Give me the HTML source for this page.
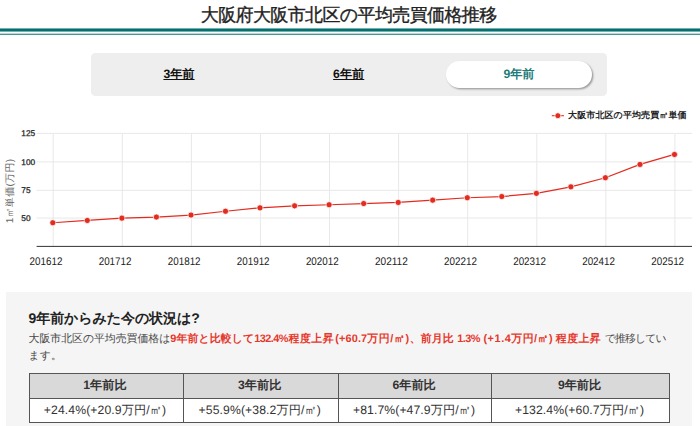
<!DOCTYPE html>
<html lang="ja">
<head>
<meta charset="utf-8">
<title>大阪府大阪市北区の平均売買価格推移</title>
<style>
*{margin:0;padding:0;box-sizing:border-box;}
html,body{width:700px;height:426px;overflow:hidden;background:#fff;}
body{font-family:"Liberation Sans",sans-serif;color:#222;position:relative;text-rendering:geometricPrecision;}
.title{position:absolute;left:-1.3px;top:2.6px;width:700px;text-align:center;font-size:18px;font-weight:500;line-height:24px;color:#222;letter-spacing:-0.62px;-webkit-text-stroke:0.35px #222;}
svg.rules{position:absolute;left:0;top:26px;}
.tabs{position:absolute;left:91.3px;top:53.3px;width:515.7px;height:42.4px;background:#eeeeee;border-radius:4.5px;}
.tab{position:absolute;top:7.6px;height:27.1px;width:146px;border-radius:13.6px;text-align:center;font-size:12.2px;font-weight:700;line-height:26.6px;color:#111;}
.tab span{text-decoration:underline;}
.tab.t1{left:14.7px;}
.tab.t2{left:184.4px;}
.tab.t3{left:354.7px;background:#fff;color:#1f7a7a;box-shadow:1.3px 1.3px 2px rgba(0,0,0,.36);}
.tab.t3 span{text-decoration:none;}
svg.chart{position:absolute;left:0;top:100px;}
.info{position:absolute;left:6.3px;top:291.9px;width:685.7px;height:140px;background:#f5f5f5;}
.h{position:absolute;left:28.6px;top:307.5px;font-size:14px;font-weight:700;line-height:21px;color:#222;white-space:nowrap;letter-spacing:-0.1px;}
.p{position:absolute;left:28.6px;top:330.6px;width:664px;white-space:nowrap;font-size:10.9px;line-height:17.7px;color:#484848;}
.p .tl{letter-spacing:-0.9px;margin-left:0.6px;}
.p b{color:#e6372c;font-weight:700;}
table{position:absolute;left:28.5px;top:372.6px;border-collapse:collapse;table-layout:fixed;width:640.5px;font-size:12.2px;color:#333;}
th,td{border:1px solid #555;text-align:center;padding:0 2px 0 0;white-space:nowrap;}
th{background:#d9d9d9;font-weight:700;height:25.5px;}
td{background:#fff;height:23.7px;letter-spacing:.1px;}
</style>
</head>
<body>
<div class="title">大阪府大阪市北区の平均売買価格推移</div>
<svg class="rules" width="700" height="12" viewBox="0 26 700 12"><rect x="0" y="28.45" width="700" height="3.1" fill="#05706e"/><rect x="0" y="33.65" width="700" height="1.3" fill="#3a9391"/></svg>
<div class="tabs">
  <div class="tab t1"><span>3年前</span></div>
  <div class="tab t2"><span>6年前</span></div>
  <div class="tab t3"><span>9年前</span></div>
</div>
<svg class="chart" width="700" height="180" viewBox="0 100 700 180" font-family="Liberation Sans, sans-serif">
  <g stroke="#e8e8e8" stroke-width="1" fill="none">
    <path d="M36.6 133.4H692M36.6 161.9H692M36.6 190.3H692M36.6 218H692"/>
    <path d="M53.2 133.4V246M122.3 133.4V246M191.4 133.4V246M260.4 133.4V246M329.5 133.4V246M398.6 133.4V246M467.7 133.4V246M536.8 133.4V246M605.8 133.4V246M674.9 133.4V246"/>
  </g>
  <path d="M36.6 246.4H692" stroke="#333" stroke-width="1" fill="none"/>
  <g font-size="8.3" fill="#222" text-anchor="start" stroke="#222" stroke-width="0.25">
    <text x="21.3" y="136.4">125</text>
    <text x="21.3" y="164.9">100</text>
    <text x="21.3" y="193.2">75</text>
    <text x="21.3" y="221">50</text>
  </g>
  <g font-size="11" fill="#222" text-anchor="start">
    <text x="29.6" y="265.1" textLength="32.8" lengthAdjust="spacingAndGlyphs">201612</text>
    <text x="98.7" y="265.1" textLength="32.8" lengthAdjust="spacingAndGlyphs">201712</text>
    <text x="167.8" y="265.1" textLength="32.8" lengthAdjust="spacingAndGlyphs">201812</text>
    <text x="236.8" y="265.1" textLength="32.8" lengthAdjust="spacingAndGlyphs">201912</text>
    <text x="305.9" y="265.1" textLength="32.8" lengthAdjust="spacingAndGlyphs">202012</text>
    <text x="375.0" y="265.1" textLength="32.8" lengthAdjust="spacingAndGlyphs">202112</text>
    <text x="444.1" y="265.1" textLength="32.8" lengthAdjust="spacingAndGlyphs">202212</text>
    <text x="513.2" y="265.1" textLength="32.8" lengthAdjust="spacingAndGlyphs">202312</text>
    <text x="582.2" y="265.1" textLength="32.8" lengthAdjust="spacingAndGlyphs">202412</text>
    <text x="651.3" y="265.1" textLength="32.8" lengthAdjust="spacingAndGlyphs">202512</text>
  </g>
  <text transform="translate(12.8 191) rotate(-90)" font-size="10" fill="#666" text-anchor="middle" letter-spacing="0.3">1㎡単価(万円)</text>
  <g transform="translate(-0.4 0.15)">
  <polyline fill="none" stroke="#e22c20" stroke-width="1.25" stroke-linejoin="round" points="53.2,222.6 87.7,220.3 122.3,218 156.8,216.9 191.4,214.9 225.9,211.1 260.4,207.7 295,205.7 329.5,204.6 364.1,203.4 398.6,202.3 433.1,200 467.7,197.6 502.2,196.4 536.8,193.2 571.3,186.7 605.8,177.6 640.4,164.3 674.9,154.3"/>
  <g fill="#e22c20" stroke="#fff" stroke-width="0.7">
    <circle cx="53.2" cy="222.6" r="3.05"/><circle cx="87.7" cy="220.3" r="3.05"/><circle cx="122.3" cy="218" r="3.05"/>
    <circle cx="156.8" cy="216.9" r="3.05"/><circle cx="191.4" cy="214.9" r="3.05"/><circle cx="225.9" cy="211.1" r="3.05"/>
    <circle cx="260.4" cy="207.7" r="3.05"/><circle cx="295" cy="205.7" r="3.05"/><circle cx="329.5" cy="204.6" r="3.05"/>
    <circle cx="364.1" cy="203.4" r="3.05"/><circle cx="398.6" cy="202.3" r="3.05"/><circle cx="433.1" cy="200" r="3.05"/>
    <circle cx="467.7" cy="197.6" r="3.05"/><circle cx="502.2" cy="196.4" r="3.05"/><circle cx="536.8" cy="193.2" r="3.05"/>
    <circle cx="571.3" cy="186.7" r="3.05"/><circle cx="605.8" cy="177.6" r="3.05"/><circle cx="640.4" cy="164.3" r="3.05"/>
    <circle cx="674.9" cy="154.3" r="3.05"/>
  </g>
  </g>
  <path d="M551.8 115.7H563.9" stroke="#e22c20" stroke-width="1.1"/>
  <circle cx="557.85" cy="115.7" r="3" fill="#e22c20" stroke="#fff" stroke-width="0.8"/>
  <text x="568.1" y="118.4" font-size="9" font-weight="700" fill="#222" letter-spacing="0.1">大阪市北区の平均売買㎡単価</text>
</svg>
<div class="info"></div>
<div class="h">9年前からみた今の状況は?</div>
<div class="p"><span style="letter-spacing:-.03px">大阪市北区の平均売買価格は</span><b><span style="letter-spacing:.1px">9年前と比較して</span><span style="letter-spacing:-.52px">132.4%</span><span style="letter-spacing:.52px;margin-left:.5px">程度上昇</span><span style="letter-spacing:.13px;margin-left:1.2px">(+60.7</span><span style="letter-spacing:.62px">万円/㎡)</span><span style="letter-spacing:.1px">、前月比 </span><span style="letter-spacing:-.5px;margin-left:.4px">1.3%</span><span style="letter-spacing:.55px;margin-left:3.4px">(+1.4</span><span style="letter-spacing:.47px">万円/㎡)</span><span style="letter-spacing:.45px;margin-left:2.8px">程度上昇</span></b> <span class="tl">で推移してい</span><br>ます。</div>
<table>
  <colgroup><col style="width:154px"><col style="width:155.5px"><col style="width:153.2px"><col style="width:177.8px"></colgroup>
  <tr><th>1年前比</th><th>3年前比</th><th>6年前比</th><th>9年前比</th></tr>
  <tr><td>+24.4%(+20.9万円/㎡)</td><td>+55.9%(+38.2万円/㎡)</td><td>+81.7%(+47.9万円/㎡)</td><td>+132.4%(+60.7万円/㎡)</td></tr>
</table>
</body>
</html>
